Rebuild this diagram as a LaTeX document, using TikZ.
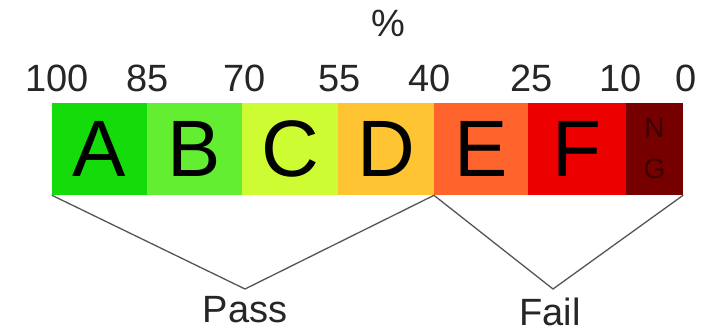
\documentclass[tikz,border=0pt]{standalone}
\usepackage{fontspec}
\setmainfont{Liberation Sans}
\definecolor{cA}{RGB}{20,220,10}
\definecolor{cB}{RGB}{100,238,50}
\definecolor{cC}{RGB}{205,252,50}
\definecolor{cD}{RGB}{255,196,50}
\definecolor{cE}{RGB}{255,100,45}
\definecolor{cF}{RGB}{236,0,0}
\definecolor{cNG}{RGB}{118,0,0}
\definecolor{cNGt}{RGB}{60,0,0}
\definecolor{lineg}{RGB}{85,85,85}
\begin{document}
\begin{tikzpicture}[x=1pt,y=-1pt,
  seg/.style={rectangle, draw=none, inner sep=0pt, minimum height=92pt,
    font=\fontsize{80}{80}\selectfont, text=black},
  num/.style={inner sep=0pt, anchor=base, font=\fontsize{38}{38}\selectfont, text=black!85},
  lab/.style={inner sep=0pt, anchor=north, font=\fontsize{38}{38}\selectfont, text=black!85},
  conn/.style={draw=lineg, line width=1.3pt}]
\useasboundingbox (0,0) rectangle (710,334);
\fill[white] (0,0) rectangle (710,334);
% bar segments
\node[seg, fill=cA, minimum width=95pt] (A) at (99.5,149) {A};
\node[seg, fill=cB, minimum width=95pt] (B) at (194.5,149) {B};
\node[seg, fill=cC, minimum width=96pt] (C) at (290,149) {C};
\node[seg, fill=cD, minimum width=96pt] (D) at (386,149) {D};
\node[seg, fill=cE, minimum width=94pt] (E) at (481,149) {E};
\node[seg, fill=cF, minimum width=98pt] (F) at (577,149) {F};
\node[seg, fill=cNG, minimum width=57pt, text=cNGt, align=center,
  font=\fontsize{28}{41}\selectfont] (NG) at (654.5,149) {N\\G};
% scale numbers
\node[num] (n100) at (57,92) {100};
\node[num] (n85) at (148,92) {85};
\node[num] (n70) at (245,92) {70};
\node[num] (n55) at (340,92) {55};
\node[num] (n40) at (430,92) {40};
\node[num] (n25) at (532,92) {25};
\node[num] (n10) at (621,92) {10};
\node[num] (n0) at (686,92) {0};
\node[num] (pct) at (388,37) {\%};
% pass / fail
\coordinate (pa) at (245,289);
\coordinate (fa) at (553,289);
\node[lab] (pass) at (245,296) {Pass};
\node[lab] (fail) at (550,298) {Fail};
\draw[conn] (A.south west) -- (pa) -- (D.south east);
\draw[conn] (E.south west) -- (fa) -- (NG.south east);
\end{tikzpicture}
\end{document}
